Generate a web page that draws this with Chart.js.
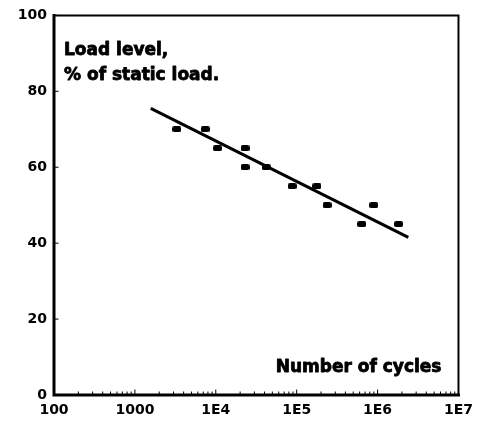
<!DOCTYPE html>
<html>
<head>
<meta charset="utf-8">
<script src="https://cdn.jsdelivr.net/npm/chart.js@4"></script>
<style>
  html, body { margin: 0; padding: 0; background: #fff; }
  #wrap { width: 480px; height: 427px; }
</style>
</head>
<body>
<div id="wrap"><canvas id="fatigue-chart" width="480" height="427"></canvas></div>
<script>
// test results: number of cycles to failure vs. load level
const cycles = [3300, 7400, 10500, 23000, 23000, 42000, 88000, 178000, 237000, 638000, 898000, 1820000];
const load = [70, 70, 65, 65, 60, 60, 55, 55, 50, 45, 50, 45];

// fitted line
const fitCycles = [1570, 2400000];
const fitLoad = [75.5, 41.5];

const xTicks = [100, 1000, 1e4, 1e5, 1e6, 1e7];
const yTicks = [0, 20, 40, 60, 80, 100];

const FONT = 'DejaVu Sans';

// small filled bar used as the point marker
let marker = document.createElement('canvas');
marker.width = 9;
marker.height = 6;
let mctx = marker.getContext('2d');
mctx.fillStyle = '#000';
mctx.beginPath();
mctx.roundRect(0, 0, 9, 6, 2);
mctx.fill();

// heavy text: fill plus a thin outline
function heavyText(ctx, text, x, y) {
  ctx.fillText(text, x, y);
  ctx.strokeText(text, x, y);
}

// frame, inward ticks and text inside the plot
const framePlugin = {
  id: 'frame',
  afterDraw(chart) {
    const ctx = chart.ctx;
    const a = chart.chartArea;
    const xs = chart.scales.x, ys = chart.scales.y;
    ctx.save();
    ctx.strokeStyle = '#000';
    ctx.lineCap = 'square';
    ctx.lineWidth = 2;
    ctx.beginPath();
    ctx.moveTo(a.left, a.top);
    ctx.lineTo(a.right, a.top);
    ctx.lineTo(a.right, a.bottom);
    ctx.stroke();
    ctx.lineWidth = 3;
    ctx.beginPath();
    ctx.moveTo(a.left, a.top);
    ctx.lineTo(a.left, a.bottom);
    ctx.lineTo(a.right, a.bottom);
    ctx.stroke();

    ctx.lineWidth = 1;
    ctx.beginPath();
    for (let d = 100; d < 1e7; d *= 10) {
      for (let m = 2; m <= 10; m++) {
        const px = xs.getPixelForValue(d * m);
        ctx.moveTo(px, a.bottom);
        ctx.lineTo(px, a.bottom - (m === 10 ? 5 : 3));
      }
    }
    yTicks.forEach(v => {
      const py = ys.getPixelForValue(v);
      ctx.moveTo(a.left, py);
      ctx.lineTo(a.left + 4, py);
    });
    ctx.stroke();

    ctx.fillStyle = '#000';
    ctx.lineWidth = 0.8;
    ctx.lineJoin = 'round';
    ctx.font = 'bold 17px ' + FONT;
    ctx.textAlign = 'left';
    ctx.textBaseline = 'alphabetic';
    heavyText(ctx, 'Load level,', a.left + 10, a.top + 40);
    heavyText(ctx, '% of static load.', a.left + 10, a.top + 65);
    ctx.textAlign = 'right';
    heavyText(ctx, 'Number of cycles', a.right - 17, a.bottom - 23);
    ctx.restore();
  }
};

let chart = new Chart(document.getElementById('fatigue-chart').getContext('2d'), {
  type: 'scatter',
  data: {
    datasets: [{
      data: cycles.map((c, i) => ({ x: c, y: load[i] })),
      pointStyle: marker,
      pointRadius: 4,
      showLine: false
    }, {
      data: fitCycles.map((c, i) => ({ x: c, y: fitLoad[i] })),
      showLine: true,
      borderColor: '#000',
      borderWidth: 3,
      pointRadius: 0
    }]
  },
  options: {
    responsive: false,
    animation: false,
    layout: { padding: { left: 0, top: 13, right: 20, bottom: 0 } },
    plugins: {
      legend: { display: false },
      tooltip: { enabled: false }
    },
    scales: {
      x: {
        type: 'logarithmic',
        min: 100,
        max: 1e7,
        grid: { display: false, drawTicks: false },
        border: { display: false },
        afterBuildTicks: s => { s.ticks = xTicks.map(v => ({ value: v })); },
        afterFit: s => { s.height = 32; },
        ticks: {
          autoSkip: false,
          maxRotation: 0,
          padding: 7,
          color: '#000',
          font: { family: FONT, size: 14, weight: 'bold' },
          callback: v => v < 1e4 ? String(v) : '1E' + Math.round(Math.log10(v))
        }
      },
      y: {
        min: 0,
        max: 100,
        grid: { display: false, drawTicks: false },
        border: { display: false },
        afterBuildTicks: s => { s.ticks = yTicks.map(v => ({ value: v })); },
        afterFit: s => { s.width = 54; },
        ticks: {
          padding: 7,
          color: '#000',
          font: { family: FONT, size: 14, weight: 'bold' }
        }
      }
    }
  },
  plugins: [framePlugin]
});
</script>
</body>
</html>
